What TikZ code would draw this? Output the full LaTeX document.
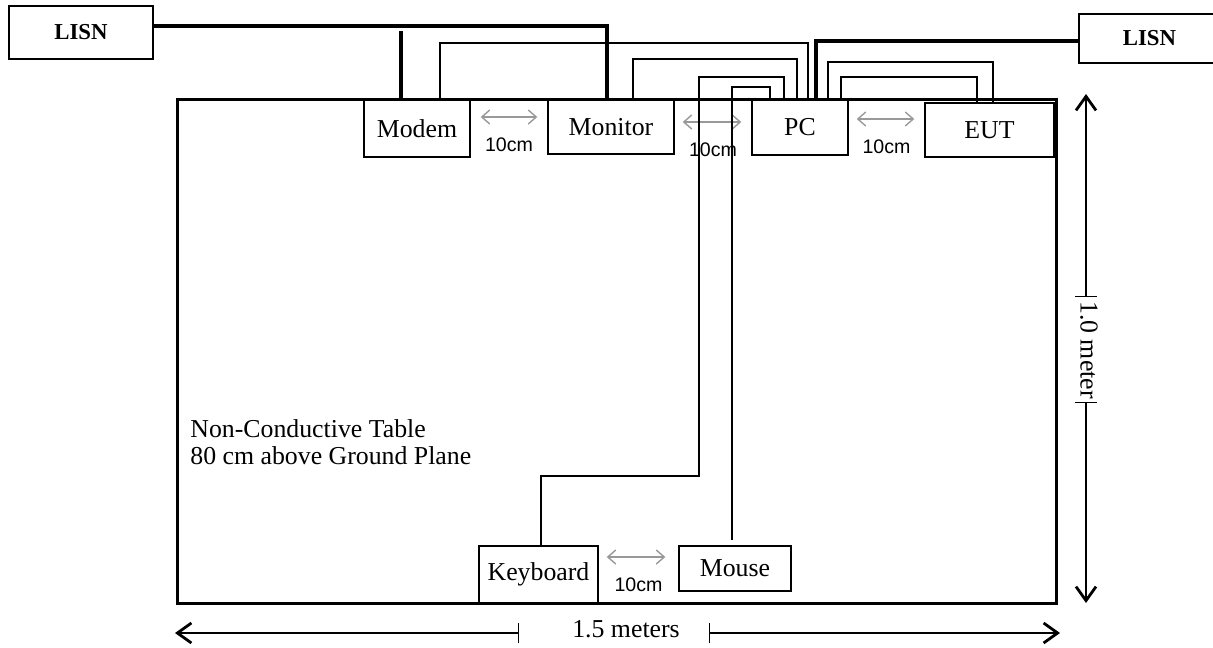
\documentclass[tikz,border=0pt]{standalone}
\usepackage{fontspec}
\setmainfont{Liberation Serif}
\setsansfont{Liberation Sans}
\usepackage{tikz}
\usetikzlibrary{arrows.meta}
\definecolor{gapgray}{rgb}{0.6, 0.6, 0.6}

\begin{document}
\begin{tikzpicture}[x=0.5pt, y=-0.5pt,
    unit/.style={draw, line width=0.7pt, fill=white, inner sep=0pt,
        font=\fontsize{12.9}{15}\selectfont},
    lisnbox/.style={unit, font=\fontsize{11.4}{13}\selectfont\bfseries},
    thickcable/.style={line width=1.6pt},
    thincable/.style={line width=0.85pt},
    gap/.style={gapgray, line width=0.7pt, shorten <=4pt, shorten >=5pt,
        {Straight Barb[length=4pt,width=7pt]}-{Straight Barb[length=4pt,width=7pt]}},
    gaplabel/.style={inner sep=0pt, text=black, font=\sffamily\fontsize{9.8}{11}\selectfont},
    dimline/.style={line width=0.55pt},
    dimtext/.style={inner sep=0pt, font=\fontsize{12.9}{15}\selectfont}
]
    \useasboundingbox (0,0) rectangle (1213,647);

    % Line impedance stabilisation networks
    \node(lisnL)[lisnbox, minimum width=72pt, minimum height=26.5pt] at (81,32.5) {LISN};
    \node(lisnR)[lisnbox, minimum width=70.5pt, minimum height=24.5pt] at (1149.5,38.5) {LISN};

    % Units on the table
    \node(Modem)[unit, minimum width=53pt, minimum height=28.5pt] at (417,128.5) {Modem};
    \node(Monitor)[unit, minimum width=63pt, minimum height=27pt] at (611,127) {Monitor};
    \node(PC)[unit, minimum width=48pt, minimum height=27.5pt] at (800,127.5) {PC};
    \node(EUT)[unit, minimum width=64.5pt, minimum height=27pt] at (989.5,130) {EUT};
    \node(Keyboard)[unit, minimum width=59.5pt, minimum height=28.5pt] at (538.5,574.5) {Keyboard};
    \node(Mouse)[unit, minimum width=56pt, minimum height=22.5pt] at (735,568.5) {Mouse};

    % The table itself
    \node(table)[draw, line width=1.5pt, minimum width=439.5pt, minimum height=251.5pt] at (616.5,351.5) {};
    \node(tablelabel)[dimtext, align=left, anchor=north west,
        font=\fontsize{12.9}{13.4}\selectfont] at (190,419)
        {Non-Conductive Table\\80 cm above Ground Plane};

    % 10 cm spacings
    \draw[gap, shorten <=5pt] (Modem.east |- 0,117) -- (Monitor.west |- 0,117)
        node[gaplabel, midway, below=10pt] {10cm};
    \draw[gap] (Monitor.east |- 0,122) -- (PC.west |- 0,122)
        node[gaplabel, midway, below=10pt] {10cm};
    \draw[gap] (PC.east |- 0,119) -- (EUT.west |- 0,119)
        node[gaplabel, midway, below=10pt] {10cm};
    \draw[gap, shorten >=6.5pt] (Keyboard.east |- 0,557) -- (Mouse.west |- 0,557)
        node[gaplabel, midway, below=10pt] {10cm};

    % Cables
    \coordinate(stub) at (401,31);
    \draw[thickcable] (lisnL.east |- 0,26) -| (Monitor.north -| 607,0);
    \draw[thickcable] (Modem.north -| stub) -- (stub);
    \draw[thincable] (Modem.north -| 440,0) |- (808,43) -- (PC.north -| 808,0);
    \draw[thincable] (Monitor.north -| 633,0) |- (797,59) -- (PC.north -| 797,0);
    \draw[thincable] (Keyboard.north -| 541,0) |- (699,476) |- (784,77) -- (PC.north -| 784,0);
    \draw[thincable] ([yshift=2.5pt]Mouse.north -| 732,0) |- (770,87) -- (PC.north -| 770,0);
    \draw[thickcable] (PC.north -| 816,0) |- (lisnR.west |- 0,41);
    \draw[thincable] (PC.north -| 828,0) |- (993,62) -- (EUT.north -| 993,0);
    \draw[thincable] (PC.north -| 841,0) |- (977,77) -- (EUT.north -| 977,0);

    % Table size
    \draw[dimline, {Bar[width=10pt]}-{Straight Barb[length=7pt,width=10pt,line width=1.4pt]}]
        (519,633) -- (175,633);
    \draw[dimline, {Bar[width=10pt]}-{Straight Barb[length=7pt,width=10pt,line width=1.4pt]}]
        (709,633) -- (1060,633);
    \node(widthlabel)[dimtext, anchor=base] at (626,637) {1.5 meters};
    \draw[dimline, {Bar[width=11pt]}-{Straight Barb[length=7pt,width=10pt,line width=1.4pt]}]
        (1086,297) -- (1086,94);
    \draw[dimline, {Bar[width=11pt]}-{Straight Barb[length=7pt,width=10pt,line width=1.4pt]}]
        (1086,402) -- (1086,603);
    \node(depthlabel)[dimtext, rotate=-90] at (1089,350) {1.0 meter};

\end{tikzpicture}
\end{document}
